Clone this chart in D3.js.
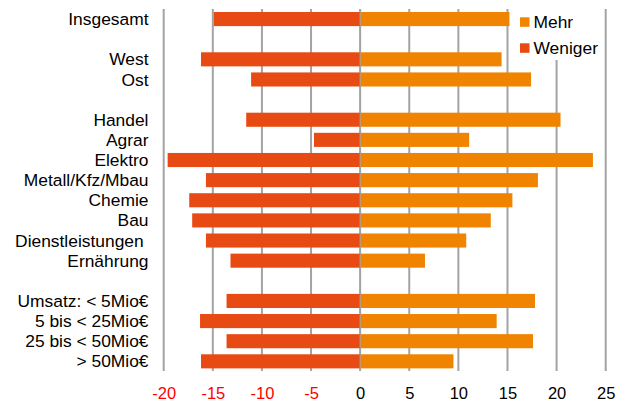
<!DOCTYPE html>
<html>
<head>
<meta charset="utf-8">
<script src="https://cdn.jsdelivr.net/npm/d3@7"></script>
<style>
  html, body { margin: 0; padding: 0; background: #fff; }
  svg { display: block; font-family: "Liberation Sans", Arial, sans-serif; }
</style>
</head>
<body>
<svg id="chart" width="641" height="403"></svg>
<script>
// Rows top to bottom; empty strings are spacer rows between groups.
const categories = [
  "Insgesamt", "",
  "West", "Ost", "",
  "Handel", "Agrar", "Elektro", "Metall/Kfz/Mbau", "Chemie", "Bau", "Dienstleistungen ", "Ernährung", "",
  "Umsatz: < 5Mio€", "5 bis < 25Mio€", "25 bis < 50Mio€", "> 50Mio€"
];
const mehr = [
  15.2, null,
  14.4, 17.4, null,
  20.4, 11.1, 23.7, 18.1, 15.5, 13.3, 10.8, 6.6, null,
  17.8, 13.9, 17.6, 9.5
];
const weniger = [
  -14.9, null,
  -16.2, -11.1, null,
  -11.6, -4.7, -19.6, -15.7, -17.4, -17.1, -15.7, -13.2, null,
  -13.6, -16.3, -13.6, -16.2
];
const tickValues = [-20, -15, -10, -5, 0, 5, 10, 15, 20, 25];
const seriesNames = ["Mehr", "Weniger"];
const seriesColors = ["#F08300", "#E84A13"];

const svg = d3.select("#chart");

const x = d3.scaleLinear().domain([-20, 25]).range([163.7, 605.7]);
const y = d3.scaleBand()
  .domain(d3.range(categories.length))
  .range([9, 371.4])
  .paddingInner(0.3)
  .paddingOuter(0.15);

// Vertical grid lines
svg.append("g")
  .selectAll("line")
  .data(tickValues)
  .join("line")
  .attr("x1", d => x(d)).attr("x2", d => x(d))
  .attr("y1", 9).attr("y2", 371)
  .attr("stroke", "#a3a3a3")
  .attr("stroke-width", 2);

// Bars
const rows = categories.map((c, i) => ({ i, c, m: mehr[i], w: weniger[i] }))
  .filter(r => r.m !== null);

svg.append("g")
  .selectAll("rect")
  .data(rows)
  .join("rect")
  .attr("x", d => x(d.w))
  .attr("width", d => x(0) - x(d.w))
  .attr("y", d => y(d.i))
  .attr("height", y.bandwidth())
  .attr("fill", seriesColors[1]);

svg.append("g")
  .selectAll("rect")
  .data(rows)
  .join("rect")
  .attr("x", x(0))
  .attr("width", d => x(d.m) - x(0))
  .attr("y", d => y(d.i))
  .attr("height", y.bandwidth())
  .attr("fill", seriesColors[0]);

// Thin zero line over the bars
svg.append("line")
  .attr("x1", x(0)).attr("x2", x(0))
  .attr("y1", 9).attr("y2", 371)
  .attr("stroke", "#a3a3a3")
  .attr("stroke-width", 1);

// Category labels
svg.append("g")
  .selectAll("text")
  .data(categories.map((c, i) => ({ c, i })).filter(d => d.c !== ""))
  .join("text")
  .attr("x", 148.5)
  .attr("y", d => y(d.i) + y.bandwidth() / 2)
  .attr("dy", "0.35em")
  .attr("text-anchor", "end")
  .attr("font-size", "17.4px")
  .attr("fill", "#000")
  .style("white-space", "pre")
  .text(d => d.c);

// X axis tick labels (plain hyphen minus)
const axis = d3.axisBottom(x).tickValues(tickValues).tickSize(0).tickPadding(0)
  .tickFormat(d => String(d));
const ax = svg.append("g").attr("transform", "translate(0,387)").call(axis);
ax.select(".domain").remove();
ax.selectAll("text")
  .attr("font-family", "'Liberation Sans', Arial, sans-serif")
  .attr("font-size", "16.5px")
  .attr("dy", "0.71em")
  .attr("fill", d => d < 0 ? "#FF0000" : "#000");

// Legend on a white panel
const legend = svg.append("g");
legend.append("rect")
  .attr("x", 513).attr("y", 0).attr("width", 88).attr("height", 60)
  .attr("fill", "#fff");
seriesNames.forEach((name, k) => {
  const ly = 17.3 + k * 26;
  legend.append("rect")
    .attr("x", 520).attr("y", ly).attr("width", 9.5).attr("height", 9.5)
    .attr("fill", seriesColors[k]);
  legend.append("text")
    .attr("x", 533.5).attr("y", ly + 4.75).attr("dy", "0.35em")
    .attr("font-size", "17.4px").attr("fill", "#000")
    .text(name);
});
</script>
</body>
</html>
